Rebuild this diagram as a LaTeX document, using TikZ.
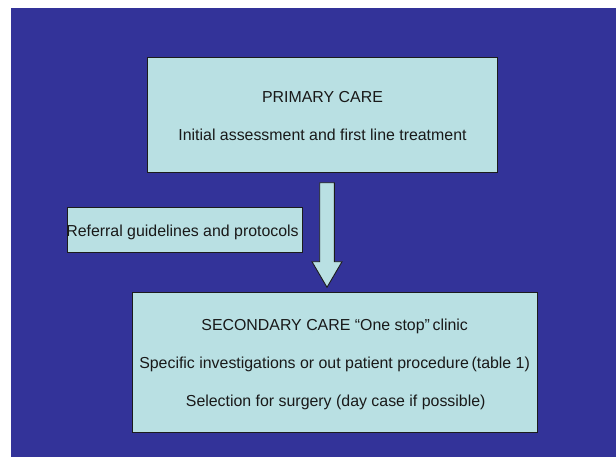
\documentclass[tikz,border=0pt]{standalone}
\usepackage{fontspec}
\setmainfont{Liberation Sans}
\usetikzlibrary{calc}
\begin{document}
\definecolor{slate}{HTML}{333399}
\definecolor{paleaqua}{HTML}{B9E0E3}
\definecolor{edge}{HTML}{1C1C1C}
\begin{tikzpicture}[x=1pt,y=1pt,
  box/.style={draw=edge, line width=0.9pt, fill=paleaqua, rectangle, inner sep=0pt},
  label/.style={anchor=base, inner sep=0pt, font=\fontsize{15.9}{19}\selectfont, text=black!90}]
  \useasboundingbox (0,0) rectangle (616,459);
  % backdrop panel
  \fill[white] (0,0) rectangle (616,459);
  \fill[slate] (11,2) rectangle (616,451);

  % boxes
  \node[box, minimum width=350pt, minimum height=115.4pt] (primary) at (322,344) {};
  \node[box, minimum width=235pt, minimum height=45pt] (referral) at (184.8,229.2) {};
  \node[box, minimum width=405pt, minimum height=140pt] (secondary) at (334.8,96.7) {};

  % block arrow between the care levels
  \coordinate (shaftTop) at (327,276.3);
  \coordinate (tip) at (327,171.7);
  \draw[draw=edge, line width=0.9pt, fill=paleaqua]
    ($(shaftTop)+(-7.3,0)$) -- ($(shaftTop)+(7.3,0)$) -- (334.3,197.3) -- (342,197.3)
    -- (tip) -- (312,197.3) -- (319.7,197.3) -- cycle;

  % texts
  \node[label] (p1) at (322.5,356.7) {PRIMARY CARE};
  \node[label] (p2) at (322.5,318.3) {Initial assessment and first line treatment};
  \node[label] (r1) at (182.5,223) {Referral guidelines and protocols};
  \node[label] (s1) at (334.7,129) {SECONDARY CARE “One stop”\,clinic};
  \node[label] (s2) at (334.6,90.7) {Specific investigations or out patient procedure\,(table 1)};
  \node[label] (s3) at (335.7,53) {Selection for surgery (day case if possible)};
\end{tikzpicture}
\end{document}
